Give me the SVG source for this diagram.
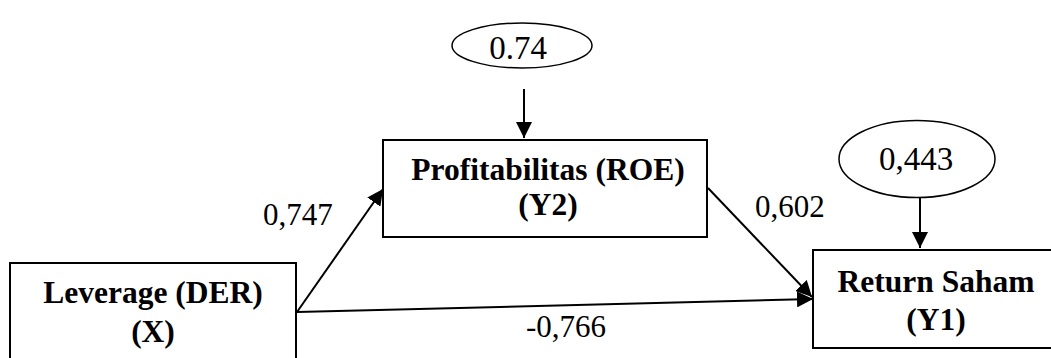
<svg xmlns="http://www.w3.org/2000/svg" width="1051" height="358" viewBox="0 0 1051 358">
<defs>
<style>
.box{fill:#fff;stroke:#000;stroke-width:2}
.ell{fill:#fff;stroke:#000;stroke-width:1.5}
text{font-family:'Liberation Serif','Tinos','Times New Roman','DejaVu Serif',serif;fill:#000}
.lbl{font-weight:bold;font-size:31.5px;text-anchor:middle}
.num{font-size:31px}
.enum{font-size:33px;text-anchor:middle}
.con{fill:none;stroke:#000;stroke-width:2;marker-end:url(#ah)}
</style>
<marker id="ah" markerUnits="userSpaceOnUse" markerWidth="16" markerHeight="16" refX="16" refY="8" orient="auto">
<path d="M0,0 L16,8 L0,16 z" fill="#000"/>
</marker>
</defs>
<g id="connectors">
<line class="con" x1="524" y1="89" x2="524" y2="138"/>
<line class="con" x1="920" y1="198" x2="920" y2="248"/>
<line class="con" x1="297" y1="312" x2="383" y2="189"/>
<line class="con" x1="708" y1="188" x2="812" y2="297"/>
<line class="con" x1="297" y1="312" x2="813" y2="299"/>
<text class="num" x="263" y="225">0,747</text>
<text class="num" x="755" y="217">0,602</text>
<text class="num" x="526" y="337">-0,766</text>
</g>
<g id="e1">
<ellipse class="ell" cx="522" cy="45.5" rx="70" ry="22.5"/>
<text class="enum" x="518" y="59">0.74</text>
</g>
<g id="e2">
<ellipse class="ell" cx="917" cy="159" rx="78" ry="38.5"/>
<text class="enum" x="916" y="170">0,443</text>
</g>
<g id="x">
<rect class="box" x="10" y="263" width="286" height="110"/>
<text class="lbl" x="153" y="303">Leverage (DER)</text>
<text class="lbl" x="153" y="342">(X)</text>
</g>
<g id="y2">
<rect class="box" x="383" y="140" width="324" height="97"/>
<text class="lbl" x="548" y="180">Profitabilitas (ROE)</text>
<text class="lbl" x="548" y="215">(Y2)</text>
</g>
<g id="y1">
<rect class="box" x="813" y="250" width="250" height="98"/>
<text class="lbl" x="936" y="292">Return Saham</text>
<text class="lbl" x="936" y="330">(Y1)</text>
</g>
</svg>
